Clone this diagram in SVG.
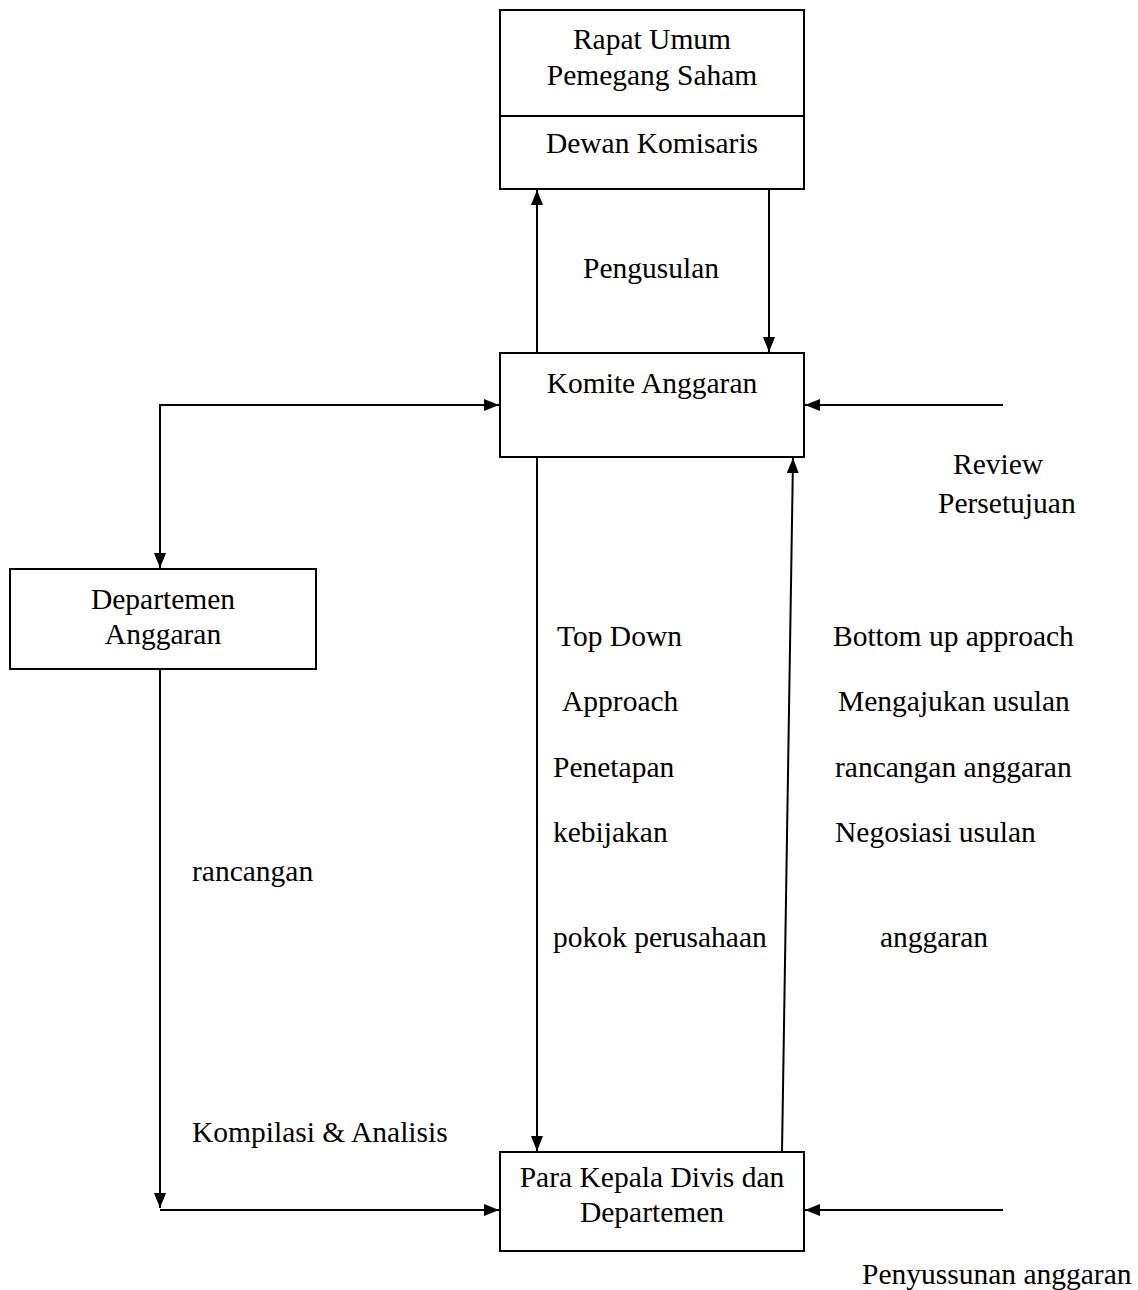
<svg xmlns="http://www.w3.org/2000/svg" width="1138" height="1290" viewBox="0 0 1138 1290">
<style>
.box{fill:#fff;stroke:#000;stroke-width:2}
.ln{fill:none;stroke:#000;stroke-width:2}
text{font-family:"Liberation Serif","Times New Roman",serif;font-size:29.5px;fill:#000}
.c{text-anchor:middle}
</style>
<defs>
<marker id="ah" viewBox="0 0 15 12" refX="15" refY="6" markerWidth="15" markerHeight="12" markerUnits="userSpaceOnUse" orient="auto-start-reverse">
<path d="M0,0 L15,6 L0,12 Z" fill="#000"/>
</marker>
</defs>
<rect width="1138" height="1290" fill="#fff"/>
<g id="connectors">
<line class="ln" x1="537" y1="353" x2="537" y2="190" marker-end="url(#ah)"/>
<line class="ln" x1="769" y1="189" x2="769" y2="352" marker-end="url(#ah)"/>
<line class="ln" x1="1003" y1="405" x2="805" y2="405" marker-end="url(#ah)"/>
<path class="ln" d="M499,405 H160 V568" marker-start="url(#ah)" marker-end="url(#ah)"/>
<line class="ln" x1="160" y1="669" x2="160" y2="1208" marker-end="url(#ah)"/>
<line class="ln" x1="160" y1="1210" x2="499" y2="1210" marker-end="url(#ah)"/>
<line class="ln" x1="537" y1="457" x2="537" y2="1151" marker-end="url(#ah)"/>
<line class="ln" x1="782" y1="1152" x2="793" y2="458" marker-end="url(#ah)"/>
<line class="ln" x1="1003" y1="1210" x2="805" y2="1210" marker-end="url(#ah)"/>
</g>
<g id="rups">
<rect class="box" x="500" y="10" width="304" height="179"/>
<line class="ln" x1="500" y1="116" x2="804" y2="116"/>
<text class="c" x="652" y="49">Rapat Umum</text>
<text class="c" x="652" y="85">Pemegang Saham</text>
<text class="c" x="652" y="153">Dewan Komisaris</text>
</g>
<g id="komite">
<rect class="box" x="500" y="353" width="304" height="104"/>
<text class="c" x="652" y="393">Komite Anggaran</text>
</g>
<g id="departemen">
<rect class="box" x="10" y="569" width="306" height="100"/>
<text class="c" x="163" y="609">Departemen</text>
<text class="c" x="163" y="644">Anggaran</text>
</g>
<g id="kepala">
<rect class="box" x="500" y="1152" width="304" height="99"/>
<text class="c" x="652" y="1187">Para Kepala Divis dan</text>
<text class="c" x="652" y="1222">Departemen</text>
</g>
<g id="labels">
<text x="583" y="278">Pengusulan</text>
<text x="953" y="474">Review</text>
<text x="938" y="513">Persetujuan</text>
<text x="557" y="646">Top Down</text>
<text x="562" y="711">Approach</text>
<text x="553" y="777">Penetapan</text>
<text x="553" y="842">kebijakan</text>
<text x="553" y="947">pokok perusahaan</text>
<text x="833" y="646">Bottom up approach</text>
<text x="838" y="711">Mengajukan usulan</text>
<text x="835" y="777">rancangan anggaran</text>
<text x="835" y="842">Negosiasi usulan</text>
<text x="880" y="947">anggaran</text>
<text x="192" y="881">rancangan</text>
<text x="192" y="1142">Kompilasi &amp; Analisis</text>
<text x="862" y="1284">Penyussunan anggaran</text>
</g>
</svg>
